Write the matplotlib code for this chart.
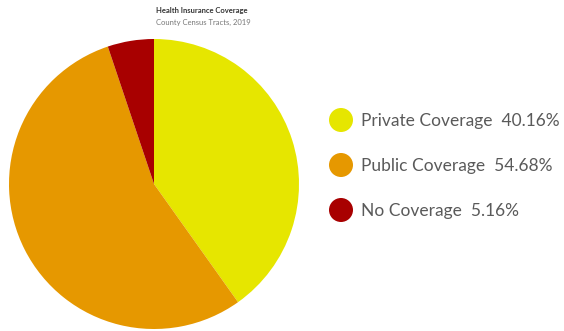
import matplotlib
matplotlib.use("Agg")
import matplotlib.pyplot as plt
from matplotlib.patches import Circle

labels = ["Private Coverage", "Public Coverage", "No Coverage"]
shares = [40.16, 54.68, 5.16]
colors = ["#E6E600", "#E69800", "#A80000"]

W, H = 564, 331
fig = plt.figure(figsize=(W / 100, H / 100), dpi=100)
plt.rcParams["font.family"] = ["Lato", "DejaVu Sans"]

# pie: centre (154, 184) px, radius 145 px
cx, cy, r = 154, 184, 145
ax = fig.add_axes([(cx - r) / W, (H - cy - r) / H, 2 * r / W, 2 * r / H])
ax.pie(shares, colors=colors, startangle=90, counterclock=False,
       wedgeprops=dict(linewidth=0))
ax.set_xlim(-1, 1); ax.set_ylim(-1, 1)
ax.set_aspect("equal")

# legend drawn in pixel coordinates
lax = fig.add_axes([0, 0, 1, 1], zorder=3)
lax.set_xlim(0, W); lax.set_ylim(H, 0)
lax.axis("off")
for i, (lab, val, c) in enumerate(zip(labels, shares, colors)):
    y = 120 + i * 45
    lax.add_patch(Circle((341, y), 12, facecolor=c, edgecolor="none"))
    lax.text(361, y + 1, f"{lab}  {val:.2f}%", fontsize=12.5, color="#5a5a5a",
             va="center", ha="left")

lax.text(156, 11, "Health Insurance Coverage", fontsize=5.5, color="#333333",
         fontweight="bold", va="center", ha="left")
lax.text(156, 22, "County Census Tracts, 2019", fontsize=5.5, color="#777777",
         va="center", ha="left")

fig.savefig("out.png", dpi=100, facecolor="white")
